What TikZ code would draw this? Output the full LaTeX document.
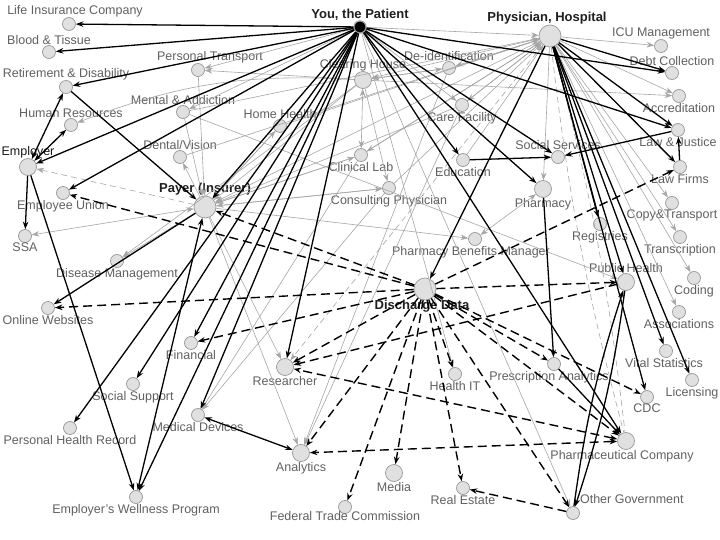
\documentclass[tikz,border=0pt]{standalone}
\usepackage{fontspec}
\setmainfont{Liberation Sans}
\usetikzlibrary{arrows.meta}

\begin{document}
\begin{tikzpicture}[x=1pt,y=-1pt,
                    >={Stealth[length=7.5pt,width=5.5pt]},
                    ent/.style={circle,draw=black!40,fill=black!12,line width=0.7pt,inner sep=0pt,minimum size=13pt},
                    mid/.style={ent,minimum size=17pt},
                    hub/.style={ent,minimum size=22pt},
                    you/.style={circle,draw=black!40,fill=black,line width=1.2pt,inner sep=0pt,minimum size=12pt},
                    lbl/.style={text=black!62,font=\fontsize{12.5}{14}\selectfont,inner sep=1pt},
                    blbl/.style={text=black!88,font=\bfseries\fontsize{13}{15}\selectfont,inner sep=1pt},
                    every label/.style={lbl},
                    label distance=-1pt,
                    flow/.style={->,line width=1.3pt,black},
                    link/.style={->,line width=0.6pt,black!35},
                    leak/.style={->,line width=1.4pt,black,dash pattern=on 9pt off 5pt},
                    faint/.style={line width=0.6pt,black!35,dash pattern=on 6pt off 4pt}
                ]
    \fill[white] (0,0) rectangle (720,540);
    \useasboundingbox (0,0) rectangle (720,540);

    \node[you,label={[blbl]above:{You, the Patient}}] (pat) at (360,27) {};
    \node[hub,label={[blbl,xshift=-3pt]above:{Physician, Hospital}}] (phys) at (550,36) {};
    \node[hub,label={[blbl]above:Payer (Insurer)}] (payer) at (205,207) {};
    \node[hub,label={[blbl,xshift=-3pt]below:Discharge Data}] (discharge) at (425,289) {};

    \node[ent,label={[xshift=6pt]above:Life Insurance Company}] (life) at (69,24) {};
    \node[ent,label={above:Blood \& Tissue}] (blood) at (49,52) {};
    \node[ent,label={above:Retirement \& Disability}] (retire) at (66,87) {};
    \node[ent,label={[xshift=12pt]above:Personal Transport}] (transp) at (198,70) {};
    \node[ent,label={above:Mental \& Addiction}] (mental) at (183,112) {};
    \node[ent,label={above:Human Resources}] (hr) at (71,125) {};
    \node[ent,label={above:Dental/Vision}] (dental) at (180,157) {};
    \node[mid,label={[text=black!90]above:Employer}] (emp) at (28,167) {};
    \node[ent,label={below:Employee Union}] (union) at (63,193) {};
    \node[ent,label={below:SSA}] (ssa) at (25,236) {};
    \node[ent,label={below:Disease Management}] (disease) at (117,261) {};
    \node[ent,label={below:Online Websites}] (online) at (48,308) {};
    \node[ent,label={below:Financial}] (fin) at (191,343) {};
    \node[ent,label={below:Social Support}] (socsup) at (133,384) {};
    \node[ent,label={below:Personal Health Record}] (phr) at (70,428) {};
    \node[ent,label={below:Medical Devices}] (meddev) at (198,415) {};
    \node[ent,label={below:Employer’s Wellness Program}] (wellness) at (136,497) {};
    \node[mid,label={below:Researcher}] (research) at (285,367) {};
    \node[mid,label={below:Analytics}] (analytics) at (301,453) {};
    \node[ent,label={[label distance=-4pt]below:Federal Trade Commission}] (ftc) at (345,507) {};
    \node[mid,label={below:Media}] (media) at (394,473) {};
    \node[ent,label={below:Real Estate}] (realest) at (463,488) {};
    \node[ent,label={below:Health IT}] (healthit) at (455,374) {};
    \node[ent,label={[xshift=-5pt]below:Prescription Analytics}] (rxanal) at (554,364) {};
    \node[ent,label={below:CDC}] (cdc) at (647,397) {};
    \node[mid,label={[xshift=-4pt]below:Pharmaceutical Company}] (pharma) at (626,441) {};
    \node[ent,label={[anchor=west,yshift=14pt]east:Other Government}] (othergov) at (573,513) {};
    \node[ent,label={[xshift=-2pt]below:Vital Statistics}] (vital) at (666,351) {};
    \node[ent,label={below:Licensing}] (licensing) at (692,380) {};
    \node[ent,label={below:Associations}] (assoc) at (679,312) {};
    \node[ent,label={below:Coding}] (coding) at (694,278) {};
    \node[ent,label={below:Transcription}] (transc) at (680,237) {};
    \node[ent,label={below:Copy\&Transport}] (copy) at (672,203) {};
    \node[ent,label={below:Law Firms}] (lawfirms) at (680,167) {};
    \node[ent,label={below:Law \& Justice}] (lawjust) at (678,130) {};
    \node[ent,label={below:Accreditation}] (accred) at (679,96) {};
    \node[ent,label={above:Debt Collection}] (debt) at (672,73) {};
    \node[ent,label={above:ICU Management}] (icu) at (661,46) {};
    \node[ent,label={above:Social Services}] (socserv) at (558,157) {};
    \node[mid,label={below:Pharmacy}] (pharmacy) at (543,189) {};
    \node[ent,label={below:Registries}] (registries) at (600,224) {};
    \node[mid,label={above:Public Health}] (pubhealth) at (626,282) {};
    \node[ent,label={[xshift=-4pt]below:Pharmacy Benefits Manager}] (pbm) at (475,239) {};
    \node[ent,label={below:Consulting Physician}] (consult) at (389,188) {};
    \node[ent,label={below:Clinical Lab}] (clinlab) at (361,155) {};
    \node[ent,label={below:Education}] (edu) at (463,160) {};
    \node[ent,label={below:Care Facility}] (care) at (462,105) {};
    \node[ent,label={above:De-identification}] (deid) at (449,68) {};
    \node[mid,label={above:Clearing House}] (clear) at (363,80) {};
    \node[ent,label={above:Home Health}] (home) at (280,126) {};

    \foreach \s/\t in {pat/phys,pat/transp,pat/care,pat/healthit,pat/othergov,pat/mental,
                       clear/transp,clear/payer,clear/deid,clear/consult,clear/accred,clear/disease,
                       deid/clear,deid/analytics,
                       phys/icu,phys/accred,phys/copy,phys/transc,phys/coding,phys/assoc,
                       phys/pharmacy,phys/deid,phys/clear,phys/care,phys/payer,phys/clinlab,
                       care/phys,edu/phys,clinlab/phys,home/phys,consult/phys,mental/phys,dental/phys,
                       payer/disease,payer/dental,payer/home,payer/consult,payer/pbm,
                       payer/analytics,payer/research,payer/clinlab,
                       mental/payer,transp/payer,home/payer,care/payer,clinlab/payer,consult/payer,
                       care/analytics,consult/meddev,clinlab/meddev,mental/pubhealth}
        {
        \draw[link] (\s) -- (\t);
        }
    \draw[link,<->] (clinlab) -- (clear);
    \draw[link,<->] (pbm) -- (pharmacy);
    \draw[link,<->] (ssa) -- (payer);
    \draw[link] (clear) to[bend right=12] (hr);
    \draw[faint,->] (payer) -- (emp);
    \draw[faint,->] (phys) -- (research);
    \draw[faint] (phys) to[bend left=4] (pharma);
    \draw[faint] (phys) to[bend right=4] (pharma);

    \foreach \t in {union,payer,online,fin,research,analytics,ftc,media,realest,
                    healthit,rxanal,cdc,othergov,pharma,pubhealth,lawfirms}
        {
        \draw[leak] (discharge) -- (\t);
        }
    \draw[leak] (pubhealth) -- (research);
    \draw[leak,<->] (pharma) -- (research);
    \draw[leak,<->] (pharma) -- (analytics);
    \draw[leak] (othergov) -- (realest);

    \foreach \t in {life,blood,retire,emp,union,payer,fin,socsup,phr,meddev,wellness,
                    research,edu,socserv,pharmacy,lawjust,debt,pharma}
        {
        \draw[flow] (pat) -- (\t);
        }
    \foreach \t in {debt,lawjust,lawfirms,registries,pubhealth,vital,cdc,licensing,discharge}
        {
        \draw[flow] (phys) -- (\t);
        }
    \draw[flow] (retire) -- (payer);
    \draw[flow,<->] (emp) -- (retire);
    \draw[flow,<->] (emp) -- (hr);
    \draw[flow] (emp) -- (ssa);
    \draw[flow] (emp) -- (wellness);
    \draw[flow] (payer) -- (online);
    \draw[flow,<->] (payer) -- (wellness);
    \draw[flow] (edu) -- (socserv);
    \draw[flow] (lawjust) -- (socserv);
    \draw[flow] (lawfirms) -- (lawjust);
    \draw[flow,<->] (meddev) -- (analytics);
    \draw[flow] (pubhealth) to[bend left=5] (othergov);
    \draw[flow] (othergov) to[bend left=5] (pubhealth);
    \draw[flow] (pharmacy) -- (rxanal);
    \draw[flow] (rxanal) -- (pharma);
\end{tikzpicture}
\end{document}
